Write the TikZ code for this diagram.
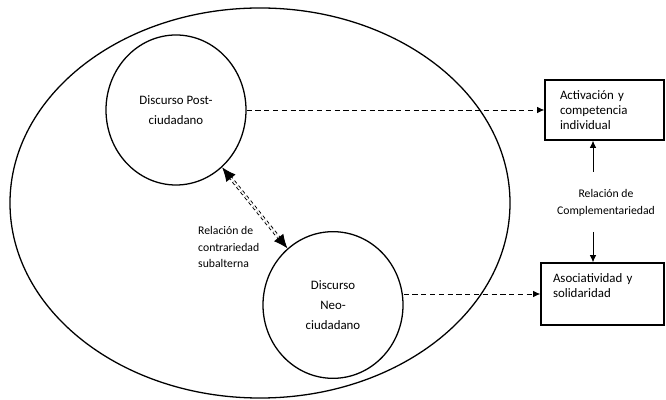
\documentclass[tikz,border=0pt]{standalone}
\usepackage{fontspec}
\setmainfont{Carlito}
\usetikzlibrary{arrows.meta,positioning,shapes.geometric}

\begin{document}
\begin{tikzpicture}[x=0.03cm,y=-0.03cm,
  disc/.style={ellipse,draw,line width=1.1pt,minimum width=4.2cm,minimum height=4.5cm,inner sep=0pt,align=center,font=\fontsize{11}{17}\selectfont},
  outcome/.style={rectangle,draw,line width=1.1pt,align=left,font=\fontsize{11}{12.5}\selectfont},
  relation/.style={inner sep=0pt,font=\fontsize{10}{14}\selectfont},
  dasharrow/.style={-{Latex[length=2.2mm,width=2mm]},thick,dash pattern=on 4.5pt off 3pt}]
\useasboundingbox (0,0) rectangle (666,400);

% whole field
\node[ellipse,draw,line width=1.1pt,minimum width=15cm,minimum height=11.7cm,inner sep=0pt] (field) at (260,203) {};

% the two discourses
\node[disc] (post) at (176,110) {Discurso Post-\\ciudadano};
\node[disc,minimum height=4.4cm] (neo) at (333,305) {Discurso\\Neo-\\ciudadano};

% outcomes on the right
\node[outcome,minimum width=3.57cm,minimum height=1.8cm,text width=2.67cm,inner xsep=0.45cm] (activ) at (604.5,110) {Activación y\\competencia\\individual};
\node[outcome,minimum width=3.69cm,minimum height=1.86cm,text width=2.97cm,inner xsep=0.36cm] (asoc) at (602.5,294) {Asociatividad y\\solidaridad\\[2pt]\mbox{}};

% relations
\draw[dasharrow] (post.east) -- (activ.west);
\draw[dasharrow] (neo.east |- asoc.west) -- (asoc.west);
\draw[line width=0.8pt,double,double distance=1.4pt,dash pattern=on 3pt off 2.5pt,shorten <=3.5mm,shorten >=3.5mm] (post) -- (neo);
\draw[{Latex[length=4.2mm,width=3.6mm]}-{Latex[length=4.2mm,width=3.6mm]},line width=0.8pt,shorten <=0pt,dash pattern=on 0pt off 100pt] (post) -- (neo);
\node[relation,anchor=west,align=left] (contra) at (198,247) {Relación de\\contrariedad\\subalterna};

\node[relation,align=center] (compl) at (606,203) {Relación de\\Complementariedad};
\coordinate (upstart) at (593,172);
\coordinate (downstart) at (593,232);
\draw[-{Latex[length=2.2mm,width=2mm]},thick] (upstart) -- (upstart |- activ.south);
\draw[-{Latex[length=2.2mm,width=2mm]},thick] (downstart) -- (downstart |- asoc.north);
\end{tikzpicture}
\end{document}
